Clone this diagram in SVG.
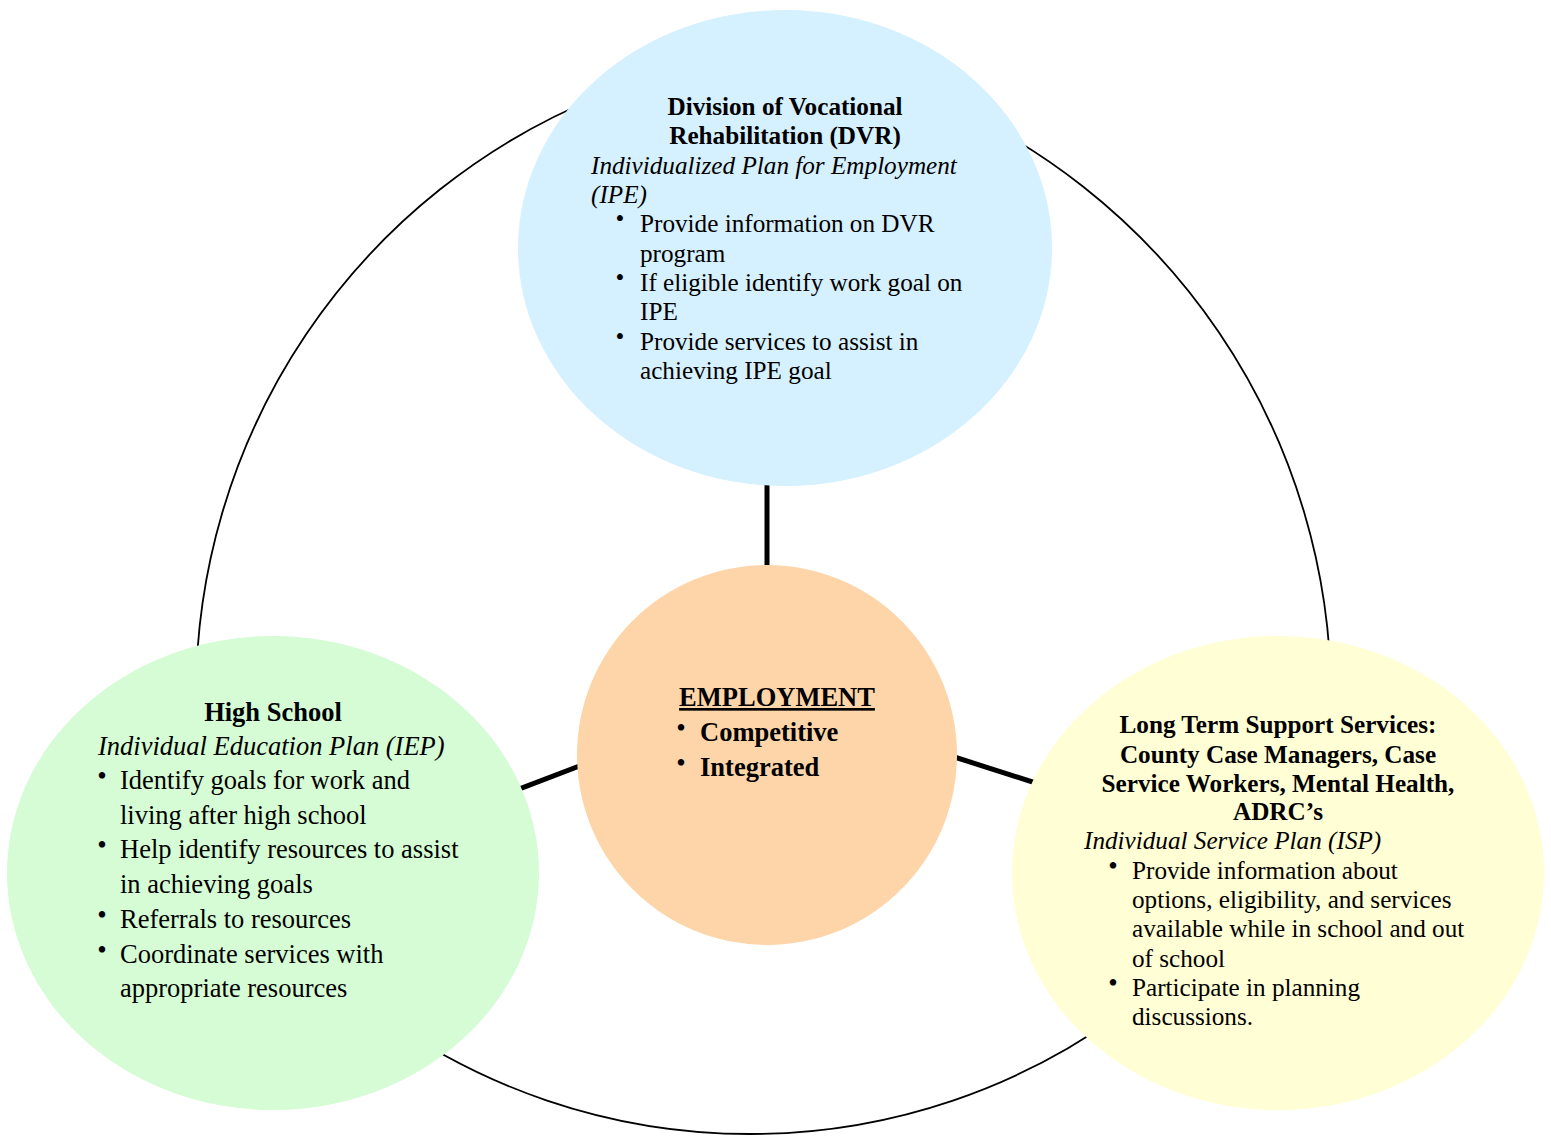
<svg xmlns="http://www.w3.org/2000/svg" width="1551" height="1136" viewBox="0 0 1551 1136">
<style>
  text { font-family: "Liberation Serif", "Times New Roman", serif; fill: #000; }
  .s25 { font-size: 25.2px; }
  .s26 { font-size: 26.5px; }
  .bu { font-size: 27px; text-anchor: middle; }
  .bs { font-size: 25.2px; text-anchor: middle; }
  .b { font-weight: bold; }
  .i { font-style: italic; }
  .c { text-anchor: middle; }
  .arc { fill: none; stroke: #000; stroke-width: 1.8; }
  .link { fill: none; stroke: #000; stroke-width: 5; }
</style>
<rect width="1551" height="1136" fill="#fff"/>
<g id="connectors">
  <path class="arc" d="M 196 700 A 646 646 0 0 1 603 95"/>
  <path class="arc" d="M 918 92 A 650 650 0 0 1 1331 700"/>
  <path class="arc" d="M 1126 1010 A 632 632 0 0 1 374 1010"/>
  <line class="link" x1="767" y1="480" x2="767" y2="572"/>
  <line class="link" x1="515" y1="790.7" x2="590" y2="762"/>
  <line class="link" x1="945" y1="754" x2="1045" y2="786"/>
</g>
<g id="node-dvr">
  <ellipse cx="785" cy="248" rx="267" ry="238" fill="#D5F0FE"/>
  <text class="s25 b c" x="785" y="115">Division of Vocational</text>
  <text class="s25 b c" x="785" y="144">Rehabilitation (DVR)</text>
  <text class="s25 i" x="591" y="174">Individualized Plan for Employment</text>
  <text class="s25 i" x="591" y="203">(IPE)</text>
  <text class="bs" x="620" y="227">•</text>
  <text class="s25" x="640" y="232">Provide information on DVR</text>
  <text class="s25" x="640" y="262">program</text>
  <text class="bs" x="620" y="286">•</text>
  <text class="s25" x="640" y="291">If eligible identify work goal on</text>
  <text class="s25" x="640" y="320">IPE</text>
  <text class="bs" x="620" y="345">•</text>
  <text class="s25" x="640" y="350">Provide services to assist in</text>
  <text class="s25" x="640" y="379">achieving IPE goal</text>
</g>
<g id="node-employment">
  <circle cx="767" cy="755" r="190" fill="#FED5A8"/>
  <text class="s26 b c" x="777" y="706" text-decoration="underline">EMPLOYMENT</text>
  <text class="bu" x="681" y="737">•</text>
  <text class="s26 b" x="700" y="741">Competitive</text>
  <text class="bu" x="681" y="772">•</text>
  <text class="s26 b" x="700" y="776">Integrated</text>
</g>
<g id="node-highschool">
  <ellipse cx="273" cy="873" rx="266" ry="237" fill="#D5FCD5"/>
  <text class="s26 b c" x="273" y="721">High School</text>
  <text class="s26 i" x="98" y="755">Individual Education Plan (IEP)</text>
  <text class="bu" x="102" y="785">•</text>
  <text class="s26" x="120" y="789">Identify goals for work and</text>
  <text class="s26" x="120" y="824">living after high school</text>
  <text class="bu" x="102" y="854">•</text>
  <text class="s26" x="120" y="858">Help identify resources to assist</text>
  <text class="s26" x="120" y="893">in achieving goals</text>
  <text class="bu" x="102" y="924">•</text>
  <text class="s26" x="120" y="928">Referrals to resources</text>
  <text class="bu" x="102" y="959">•</text>
  <text class="s26" x="120" y="963">Coordinate services with</text>
  <text class="s26" x="120" y="997">appropriate resources</text>
</g>
<g id="node-ltss">
  <ellipse cx="1278" cy="873" rx="266" ry="237" fill="#FFFED5"/>
  <text class="s25 b c" x="1278" y="733">Long Term Support Services:</text>
  <text class="s25 b c" x="1278" y="763">County Case Managers, Case</text>
  <text class="s25 b c" x="1278" y="792">Service Workers, Mental Health,</text>
  <text class="s25 b c" x="1278" y="820">ADRC’s</text>
  <text class="s25 i" x="1084" y="849">Individual Service Plan (ISP)</text>
  <text class="bu" x="1113" y="875">•</text>
  <text class="s25" x="1132" y="879">Provide information about</text>
  <text class="s25" x="1132" y="908">options, eligibility, and services</text>
  <text class="s25" x="1132" y="937">available while in school and out</text>
  <text class="s25" x="1132" y="967">of school</text>
  <text class="bu" x="1113" y="992">•</text>
  <text class="s25" x="1132" y="996">Participate in planning</text>
  <text class="s25" x="1132" y="1025">discussions.</text>
</g>
</svg>
